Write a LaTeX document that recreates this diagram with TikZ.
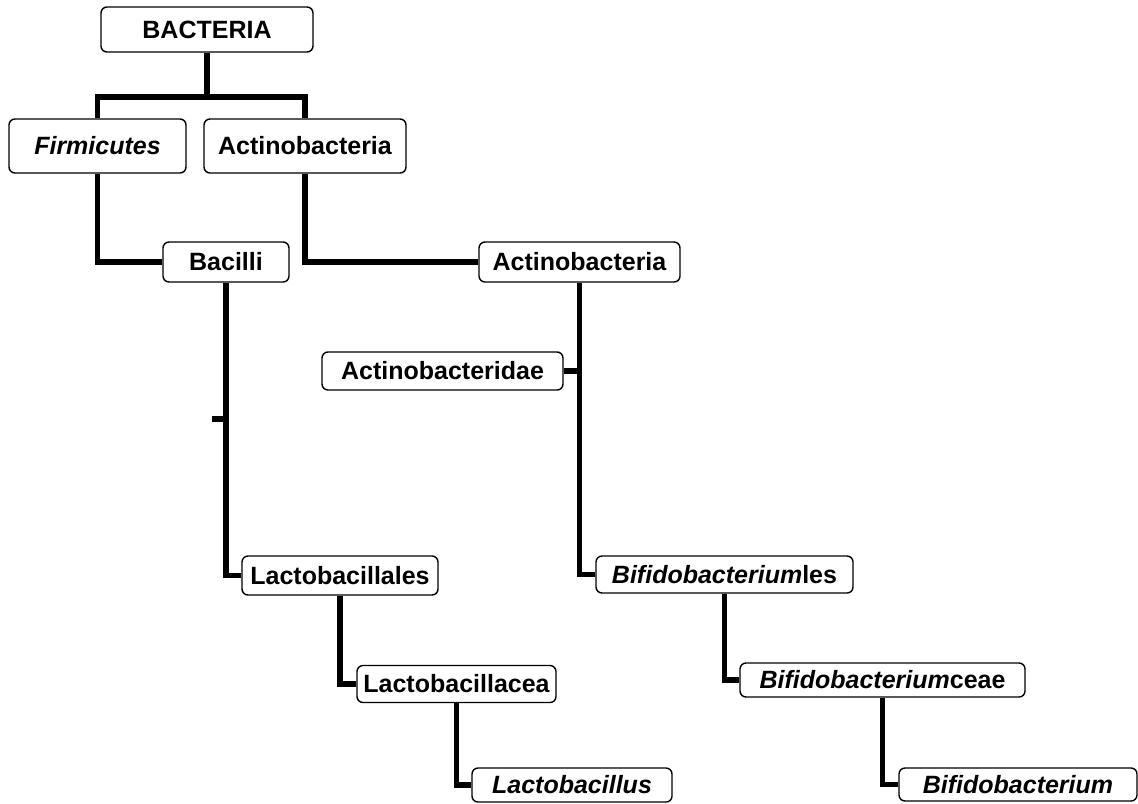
\documentclass[tikz,border=0pt]{standalone}
\usepackage{fontspec}
\setmainfont{Liberation Sans}
\begin{document}
\begin{tikzpicture}[x=0.5pt,y=-0.5pt,
  box/.style={draw=black,line width=0.7pt,rounded corners=3pt,fill=white,
    inner sep=0pt,font=\bfseries\fontsize{12.5}{15}\selectfont},
  link/.style={line width=2.75pt,line join=miter}]
\useasboundingbox (0,0) rectangle (1138,803);
\node[box,minimum width=106pt,minimum height=22.5pt] (bact) at (207,29.5) {BACTERIA};
\node[box,minimum width=88.5pt,minimum height=27pt] (firm) at (97.5,146) {\textit{Firmicutes}};
\node[box,minimum width=101pt,minimum height=27pt] (act1) at (305,146) {Actinobacteria};
\node[box,minimum width=63pt,minimum height=20pt] (bac) at (226,262) {Bacilli};
\node[box,minimum width=100.5pt,minimum height=20pt] (act2) at (579.5,262) {Actinobacteria};
\node[box,minimum width=120.5pt,minimum height=19pt] (actd) at (442.5,371) {Actinobacteridae};
\node[box,minimum width=98pt,minimum height=19.5pt] (lales) at (340,575.5) {Lactobacillales};
\node[box,minimum width=99.5pt,minimum height=18.5pt] (lacea) at (456.5,684) {Lactobacillacea};
\node[box,minimum width=100pt,minimum height=17pt] (lus) at (572,785) {\textit{Lactobacillus}};
\node[box,minimum width=128.5pt,minimum height=18.5pt] (fles) at (724.5,574.5) {\textit{Bifidobacterium}les};
\node[box,minimum width=142.5pt,minimum height=17pt] (fceae) at (882.5,680) {\textit{Bifidobacterium}ceae};
\node[box,minimum width=119pt,minimum height=16.5pt] (fium) at (1018,784.5) {\textit{Bifidobacterium}};
\coordinate (j1) at (207,97);
\coordinate (tick) at (212,419);
\draw[link] (bact.south) -- (bact.south |- j1);
\draw[link] (firm.north) -- (firm.north |- j1) -- (act1.north |- j1) -- (act1.north);
\draw[link] (firm.south) |- (bac.west);
\draw[link] (act1.south) |- (act2.west);
\draw[link] (act2.south) |- (fles.west);
\draw[link] (actd.east) -- (actd.east -| act2.south);
\draw[link] (bac.south) |- (lales.west);
\draw[link] (tick) -- (tick -| bac.south);
\draw[link] (lales.south) |- (lacea.west);
\draw[link] (lacea.south) |- (lus.west);
\draw[link] (fles.south) |- (fceae.west);
\draw[link] (fceae.south) |- (fium.west);
\end{tikzpicture}
\end{document}
